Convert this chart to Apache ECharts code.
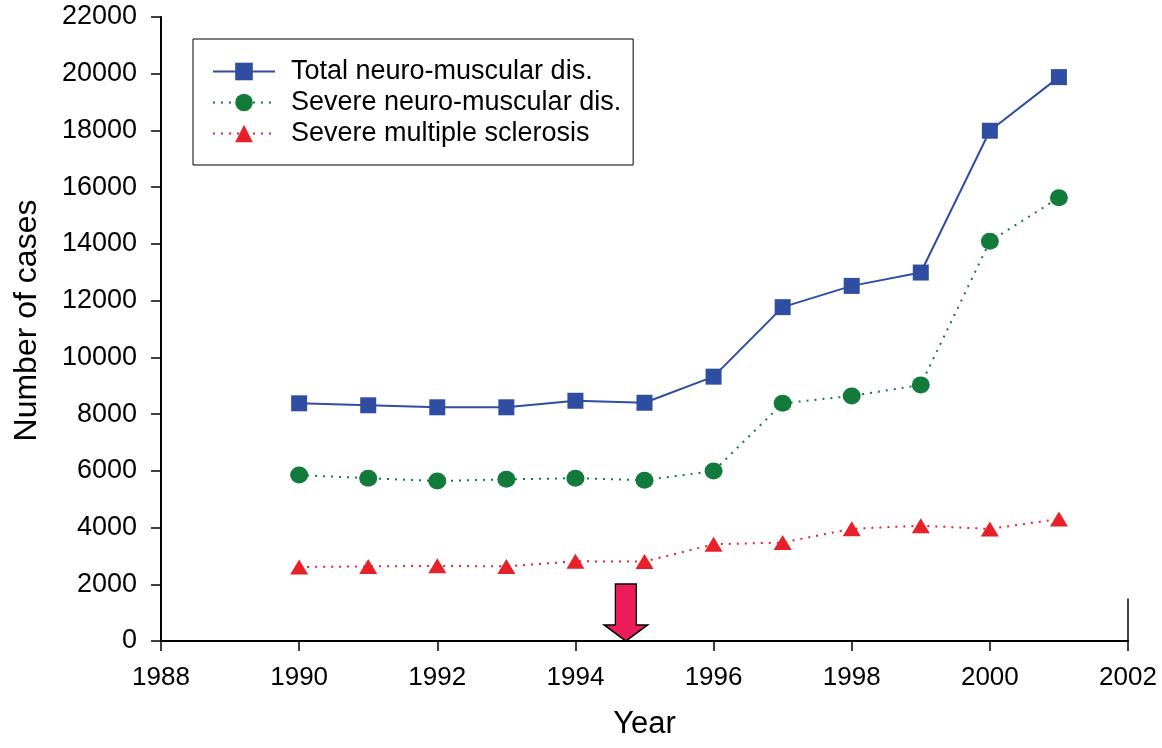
<!DOCTYPE html>
<html>
<head>
<meta charset="utf-8">
<script src="https://cdn.jsdelivr.net/npm/echarts@6/dist/echarts.min.js"></script>
<style>
html,body{margin:0;padding:0;background:#fff;}
#chart{width:1162px;height:748px;}
</style>
</head>
<body>
<div id="chart"></div>
<script>
const years = [1990, 1991, 1992, 1993, 1994, 1995, 1996, 1997, 1998, 1999, 2000, 2001];
const totalNM = [8380, 8310, 8240, 8240, 8470, 8400, 9320, 11770, 12520, 12990, 17990, 19880];
const severeNM = [5850, 5740, 5640, 5700, 5740, 5670, 5990, 8380, 8640, 9030, 14090, 15630];
const severeMS = [2610, 2630, 2650, 2630, 2810, 2800, 3410, 3470, 3955, 4065, 3950, 4300];
const seriesNames = ['Total neuro-muscular dis.', 'Severe neuro-muscular dis.', 'Severe multiple sclerosis'];
const arrowYear = 1994.73;
const xTicks = {min: 1988, max: 2002, interval: 2};
const yTicks = {min: 0, max: 22000, interval: 2000};

const FONT = '"Liberation Sans", Arial, Helvetica, sans-serif';
const pairs = arr => years.map((y, i) => [y, arr[i]]);
const plain = v => String(v);

const chart = echarts.init(document.getElementById('chart'));
chart.setOption({
  backgroundColor: '#fff',
  animation: false,
  grid: {left: 161, right: 34, top: 17, bottom: 107, containLabel: false},
  xAxis: {
    type: 'value', min: xTicks.min, max: xTicks.max, interval: xTicks.interval,
    name: 'Year', nameLocation: 'middle', nameGap: 68,
    nameTextStyle: {fontSize: 31, color: '#000', fontFamily: FONT},
    axisLine: {show: true, onZero: false, lineStyle: {color: '#000', width: 2}},
    axisTick: {show: true, inside: false, length: 10, lineStyle: {color: '#000', width: 1.5}},
    axisLabel: {fontSize: 26, color: '#000', fontFamily: FONT, margin: 24, formatter: plain},
    splitLine: {show: false}
  },
  yAxis: {
    type: 'value', min: yTicks.min, max: yTicks.max, interval: yTicks.interval,
    name: 'Number of cases', nameLocation: 'middle', nameGap: 118, nameRotate: 90,
    nameTextStyle: {fontSize: 32, color: '#000', fontFamily: FONT, padding: [0, 0, 0, 17]},
    axisLine: {show: true, lineStyle: {color: '#000', width: 2}},
    axisTick: {show: true, inside: false, length: 10, lineStyle: {color: '#000', width: 1.5}},
    axisLabel: {fontSize: 27, color: '#000', fontFamily: FONT, margin: 24, formatter: plain},
    splitLine: {show: false}
  },
  legend: {
    orient: 'vertical', left: 193, top: 39,
    data: seriesNames,
    borderColor: '#000', borderWidth: 1, borderRadius: 0,
    padding: [19, 12, 18, 19],
    itemWidth: 62, itemHeight: 22, itemGap: 4,
    textStyle: {fontSize: 27, color: '#000', fontFamily: FONT, lineHeight: 27, padding: [0, 0, 0, 11]}
  },
  series: [
    {
      name: seriesNames[0], type: 'line', data: pairs(totalNM),
      symbol: 'rect', symbolSize: 16,
      lineStyle: {color: '#2F4DA1', width: 2, type: 'solid'},
      itemStyle: {color: '#2F4DA1'}, z: 3
    },
    {
      name: seriesNames[1], type: 'line', data: pairs(severeNM),
      symbol: 'circle', symbolSize: [18, 17],
      lineStyle: {color: '#127B3C', width: 2, type: [2, 6]},
      itemStyle: {color: '#127B3C'}, z: 3
    },
    {
      name: seriesNames[2], type: 'line', data: pairs(severeMS),
      symbol: 'triangle', symbolSize: [18, 15],
      lineStyle: {color: '#E8202A', width: 2, type: [2, 6]},
      itemStyle: {color: '#E8202A'}, z: 3
    },
    {
      name: 'annotation', type: 'line', data: [], silent: true,
      markPoint: {
        symbol: 'path://M11 0 L32 0 L32 41 L43 41 L21.5 57 L0 41 L11 41 Z',
        symbolSize: [43, 57], symbolKeepAspect: false,
        symbolOffset: [0, '-50%'],
        label: {show: false},
        itemStyle: {color: '#EC1C5B', borderColor: '#000', borderWidth: 1.5},
        data: [{coord: [arrowYear, 0]}]
      },
      markLine: {
        symbol: 'none', silent: true, label: {show: false},
        lineStyle: {color: '#000', width: 1.5, type: 'solid'},
        data: [[{coord: [xTicks.max, 0]}, {coord: [xTicks.max, 1500]}]]
      }
    }
  ]
});
</script>
</body>
</html>
